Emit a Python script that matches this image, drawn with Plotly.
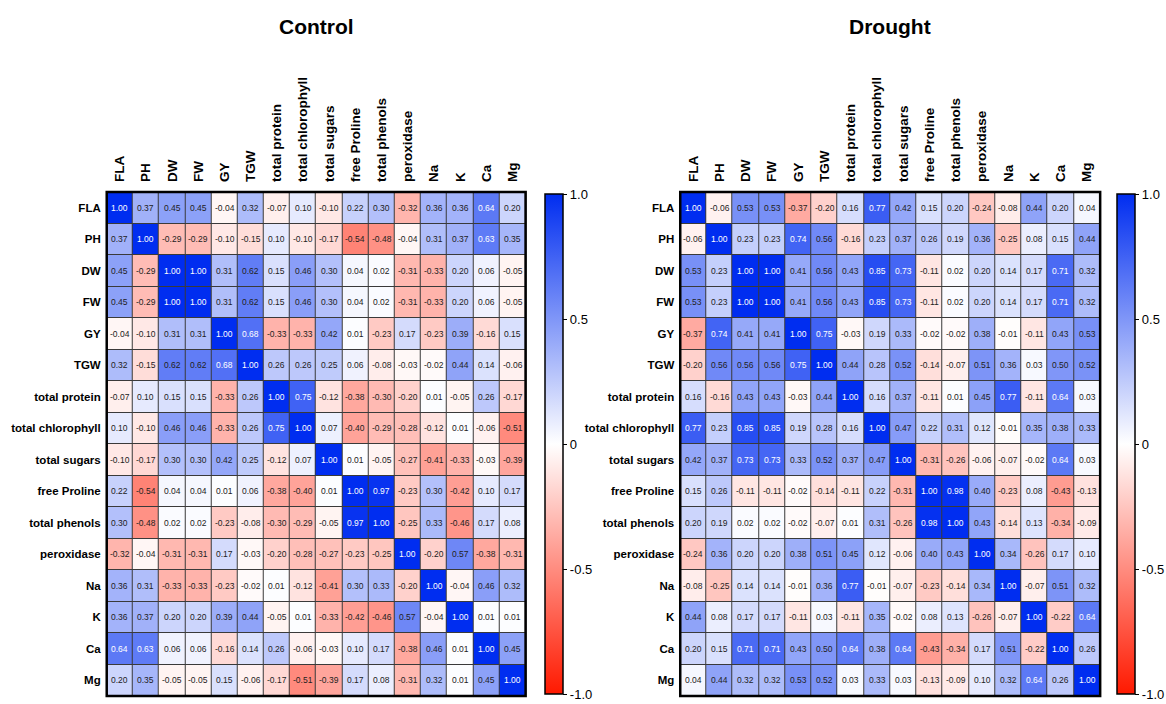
import plotly.graph_objects as go

variables = ["FLA", "PH", "DW", "FW", "GY", "TGW", "total protein", "total chlorophyll",
             "total sugars", "free Proline", "total phenols", "peroxidase", "Na", "K", "Ca", "Mg"]

control = [
    [1.00, 0.37, 0.45, 0.45, -0.04, 0.32, -0.07, 0.10, -0.10, 0.22, 0.30, -0.32, 0.36, 0.36, 0.64, 0.20],
    [0.37, 1.00, -0.29, -0.29, -0.10, -0.15, 0.10, -0.10, -0.17, -0.54, -0.48, -0.04, 0.31, 0.37, 0.63, 0.35],
    [0.45, -0.29, 1.00, 1.00, 0.31, 0.62, 0.15, 0.46, 0.30, 0.04, 0.02, -0.31, -0.33, 0.20, 0.06, -0.05],
    [0.45, -0.29, 1.00, 1.00, 0.31, 0.62, 0.15, 0.46, 0.30, 0.04, 0.02, -0.31, -0.33, 0.20, 0.06, -0.05],
    [-0.04, -0.10, 0.31, 0.31, 1.00, 0.68, -0.33, -0.33, 0.42, 0.01, -0.23, 0.17, -0.23, 0.39, -0.16, 0.15],
    [0.32, -0.15, 0.62, 0.62, 0.68, 1.00, 0.26, 0.26, 0.25, 0.06, -0.08, -0.03, -0.02, 0.44, 0.14, -0.06],
    [-0.07, 0.10, 0.15, 0.15, -0.33, 0.26, 1.00, 0.75, -0.12, -0.38, -0.30, -0.20, 0.01, -0.05, 0.26, -0.17],
    [0.10, -0.10, 0.46, 0.46, -0.33, 0.26, 0.75, 1.00, 0.07, -0.40, -0.29, -0.28, -0.12, 0.01, -0.06, -0.51],
    [-0.10, -0.17, 0.30, 0.30, 0.42, 0.25, -0.12, 0.07, 1.00, 0.01, -0.05, -0.27, -0.41, -0.33, -0.03, -0.39],
    [0.22, -0.54, 0.04, 0.04, 0.01, 0.06, -0.38, -0.40, 0.01, 1.00, 0.97, -0.23, 0.30, -0.42, 0.10, 0.17],
    [0.30, -0.48, 0.02, 0.02, -0.23, -0.08, -0.30, -0.29, -0.05, 0.97, 1.00, -0.25, 0.33, -0.46, 0.17, 0.08],
    [-0.32, -0.04, -0.31, -0.31, 0.17, -0.03, -0.20, -0.28, -0.27, -0.23, -0.25, 1.00, -0.20, 0.57, -0.38, -0.31],
    [0.36, 0.31, -0.33, -0.33, -0.23, -0.02, 0.01, -0.12, -0.41, 0.30, 0.33, -0.20, 1.00, -0.04, 0.46, 0.32],
    [0.36, 0.37, 0.20, 0.20, 0.39, 0.44, -0.05, 0.01, -0.33, -0.42, -0.46, 0.57, -0.04, 1.00, 0.01, 0.01],
    [0.64, 0.63, 0.06, 0.06, -0.16, 0.14, 0.26, -0.06, -0.03, 0.10, 0.17, -0.38, 0.46, 0.01, 1.00, 0.45],
    [0.20, 0.35, -0.05, -0.05, 0.15, -0.06, -0.17, -0.51, -0.39, 0.17, 0.08, -0.31, 0.32, 0.01, 0.45, 1.00],
]

drought = [
    [1.00, -0.06, 0.53, 0.53, -0.37, -0.20, 0.16, 0.77, 0.42, 0.15, 0.20, -0.24, -0.08, 0.44, 0.20, 0.04],
    [-0.06, 1.00, 0.23, 0.23, 0.74, 0.56, -0.16, 0.23, 0.37, 0.26, 0.19, 0.36, -0.25, 0.08, 0.15, 0.44],
    [0.53, 0.23, 1.00, 1.00, 0.41, 0.56, 0.43, 0.85, 0.73, -0.11, 0.02, 0.20, 0.14, 0.17, 0.71, 0.32],
    [0.53, 0.23, 1.00, 1.00, 0.41, 0.56, 0.43, 0.85, 0.73, -0.11, 0.02, 0.20, 0.14, 0.17, 0.71, 0.32],
    [-0.37, 0.74, 0.41, 0.41, 1.00, 0.75, -0.03, 0.19, 0.33, -0.02, -0.02, 0.38, -0.01, -0.11, 0.43, 0.53],
    [-0.20, 0.56, 0.56, 0.56, 0.75, 1.00, 0.44, 0.28, 0.52, -0.14, -0.07, 0.51, 0.36, 0.03, 0.50, 0.52],
    [0.16, -0.16, 0.43, 0.43, -0.03, 0.44, 1.00, 0.16, 0.37, -0.11, 0.01, 0.45, 0.77, -0.11, 0.64, 0.03],
    [0.77, 0.23, 0.85, 0.85, 0.19, 0.28, 0.16, 1.00, 0.47, 0.22, 0.31, 0.12, -0.01, 0.35, 0.38, 0.33],
    [0.42, 0.37, 0.73, 0.73, 0.33, 0.52, 0.37, 0.47, 1.00, -0.31, -0.26, -0.06, -0.07, -0.02, 0.64, 0.03],
    [0.15, 0.26, -0.11, -0.11, -0.02, -0.14, -0.11, 0.22, -0.31, 1.00, 0.98, 0.40, -0.23, 0.08, -0.43, -0.13],
    [0.20, 0.19, 0.02, 0.02, -0.02, -0.07, 0.01, 0.31, -0.26, 0.98, 1.00, 0.43, -0.14, 0.13, -0.34, -0.09],
    [-0.24, 0.36, 0.20, 0.20, 0.38, 0.51, 0.45, 0.12, -0.06, 0.40, 0.43, 1.00, 0.34, -0.26, 0.17, 0.10],
    [-0.08, -0.25, 0.14, 0.14, -0.01, 0.36, 0.77, -0.01, -0.07, -0.23, -0.14, 0.34, 1.00, -0.07, 0.51, 0.32],
    [0.44, 0.08, 0.17, 0.17, -0.11, 0.03, -0.11, 0.35, -0.02, 0.08, 0.13, -0.26, -0.07, 1.00, -0.22, 0.64],
    [0.20, 0.15, 0.71, 0.71, 0.43, 0.50, 0.64, 0.38, 0.64, -0.43, -0.34, 0.17, 0.51, -0.22, 1.00, 0.26],
    [0.04, 0.44, 0.32, 0.32, 0.53, 0.52, 0.03, 0.33, 0.03, -0.13, -0.09, 0.10, 0.32, 0.64, 0.26, 1.00],
]

titles = ["Control", "Drought"]
cbar_ticks = [-1.0, -0.5, 0, 0.5, 1.0]
cbar_ticktext = ["-1.0", "-0.5", "0", "0.5", "1.0"]

W, H = 1166, 704
FONT = "Liberation Sans, Arial, sans-serif"

colorscale = [[0.0, "rgb(255,25,0)"], [0.5, "rgb(255,255,255)"], [1.0, "rgb(0,45,240)"]]

# pixel geometry of each panel
panels = [
    dict(x0=107, x1=527, cb=546),
    dict(x0=682, x1=1103, cb=1120),
]
top_px, bot_px = 192, 696
cb_top, cb_bot = 194, 694

fig = go.Figure()
annotations = []
shapes = []
for i, (mat, title, p) in enumerate(zip([control, drought], titles, panels)):
    xa = "x" if i == 0 else "x2"
    ya = "y" if i == 0 else "y2"
    ca = "coloraxis" if i == 0 else "coloraxis2"
    fig.add_trace(go.Heatmap(
        z=mat, x=variables, y=variables, coloraxis=ca,
        xaxis=xa, yaxis=ya, xgap=1, ygap=1, hoverongaps=False,
    ))
    for r, rowname in enumerate(variables):
        for c, colname in enumerate(variables):
            v = mat[r][c]
            annotations.append(dict(
                x=colname, y=rowname, xref=xa, yref=ya, text=f"{v:.2f}",
                showarrow=False,
                font=dict(family=FONT, size=8.5,
                          color="white" if v >= 0.63 else "#222222"),
            ))
    annotations.append(dict(
        x=(p["x0"] + p["x1"]) / 2 / W, y=1 - 26 / H,
        xref="paper", yref="paper", text=f"<b>{title}</b>", showarrow=False,
        font=dict(family=FONT, size=21, color="black"), xanchor="center", yanchor="middle",
    ))
    shapes.append(dict(type="rect", xref="paper", yref="paper",
                       x0=p["x0"] / W, x1=p["x1"] / W, y0=1 - bot_px / H, y1=1 - top_px / H,
                       line=dict(color="black", width=2.5), fillcolor="rgba(0,0,0,0)"))

axis_common = dict(type="category", showgrid=False, zeroline=False, ticks="", showline=False)

layout = dict(
    width=W, height=H, margin=dict(l=0, r=0, t=0, b=0),
    paper_bgcolor="white", plot_bgcolor="#3a3a3a",
    annotations=annotations, shapes=shapes, showlegend=False,
)
for i, p in enumerate(panels):
    sfx = "" if i == 0 else "2"
    layout["xaxis" + sfx] = dict(axis_common, domain=[p["x0"] / W, p["x1"] / W], side="top",
                                 tickangle=-90, anchor="y" + sfx, ticklabelstandoff=9,
                                 tickfont=dict(family=FONT, size=13.5, color="black"),
                                 tickvals=variables,
                                 ticktext=[f"<b>{v}</b>" for v in variables])
    layout["yaxis" + sfx] = dict(axis_common, domain=[1 - bot_px / H, 1 - top_px / H],
                                 autorange="reversed", anchor="x" + sfx, ticklabelstandoff=5,
                                 tickfont=dict(family=FONT, size=11.5, color="black"),
                                 tickvals=variables,
                                 ticktext=[f"<b>{v}</b>" for v in variables])
    layout["coloraxis" + sfx] = dict(
        cmin=-1.0, cmax=1.0, colorscale=colorscale,
        colorbar=dict(
            x=p["cb"] / W, xanchor="left", xref="paper",
            y=1 - (cb_top + cb_bot) / 2 / H, yanchor="middle",
            len=cb_bot - cb_top, lenmode="pixels", thickness=18, thicknessmode="pixels",
            outlinecolor="black", outlinewidth=1.5,
            tickvals=cbar_ticks, ticktext=cbar_ticktext, ticks="outside", ticklen=4,
            tickcolor="black", tickfont=dict(family=FONT, size=13, color="black"),
            ticklabeloverflow="allow",
            xpad=0, ypad=0,
        ),
    )

fig.update_layout(**layout)
fig.write_html("out.html")
